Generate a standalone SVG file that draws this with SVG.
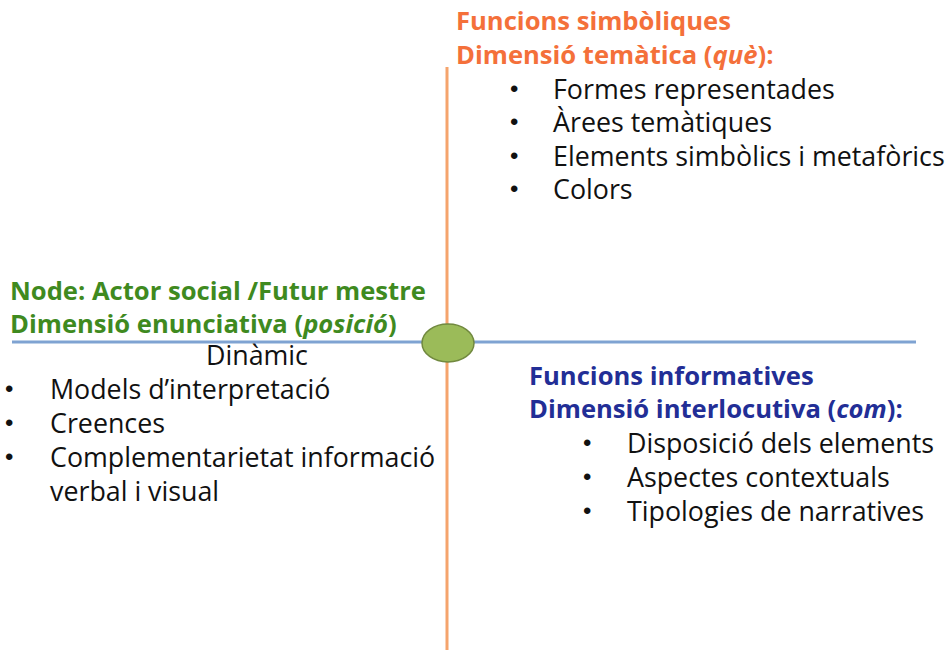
<svg xmlns="http://www.w3.org/2000/svg" width="951" height="650" viewBox="0 0 951 650">
<style>
text{font-family:"Open Sans","Liberation Sans",sans-serif;font-size:26.8px;fill:#111}
.h{font-weight:bold;font-size:25.6px}
.or{fill:#F4703A}
.gr{fill:#3F8A1F}
.bl{fill:#222E96}
.b{font-family:"Liberation Sans",sans-serif;font-size:24px}
</style>
<rect width="951" height="650" fill="#fff"/>
<g id="connectors">
<line x1="447" y1="67" x2="447" y2="650" stroke="#F5A46C" stroke-width="3"/>
<line x1="12" y1="342" x2="916" y2="342" stroke="#7FA3D2" stroke-width="3"/>
</g>
<g id="center">
<ellipse cx="448" cy="343" rx="26" ry="19" fill="#9BBB59" stroke="#71893F" stroke-width="1.5"/>
</g>
<g id="top">
<text x="456" y="30" class="h or">Funcions simbòliques</text>
<text x="456" y="64" class="h or">Dimensió temàtica (<tspan font-style="italic">què</tspan>):</text>
<text x="510" y="97" class="b">•</text><text x="553" y="99">Formes representades</text>
<text x="510" y="130" class="b">•</text><text x="553" y="132">Àrees temàtiques</text>
<text x="510" y="164" class="b">•</text><text x="553" y="166">Elements simbòlics i metafòrics</text>
<text x="510" y="197" class="b">•</text><text x="553" y="199">Colors</text>
</g>
<g id="left">
<text x="10" y="300" class="h gr">Node: Actor social /Futur mestre</text>
<text x="10" y="333" class="h gr">Dimensió enunciativa (<tspan font-style="italic">posició</tspan>)</text>
<text x="257" y="365" text-anchor="middle" font-size="24">Dinàmic</text>
<text x="5" y="397" class="b">•</text><text x="50" y="399">Models d’interpretació</text>
<text x="5" y="431" class="b">•</text><text x="50" y="433">Creences</text>
<text x="5" y="465" class="b">•</text><text x="50" y="467">Complementarietat informació</text>
<text x="50" y="501">verbal i visual</text>
</g>
<g id="right">
<text x="529" y="385" class="h bl">Funcions informatives</text>
<text x="529" y="418" class="h bl">Dimensió interlocutiva (<tspan font-style="italic">com</tspan>):</text>
<text x="583" y="451" class="b">•</text><text x="627" y="453">Disposició dels elements</text>
<text x="583" y="485" class="b">•</text><text x="627" y="487">Aspectes contextuals</text>
<text x="583" y="519" class="b">•</text><text x="627" y="521">Tipologies de narratives</text>
</g>
</svg>
